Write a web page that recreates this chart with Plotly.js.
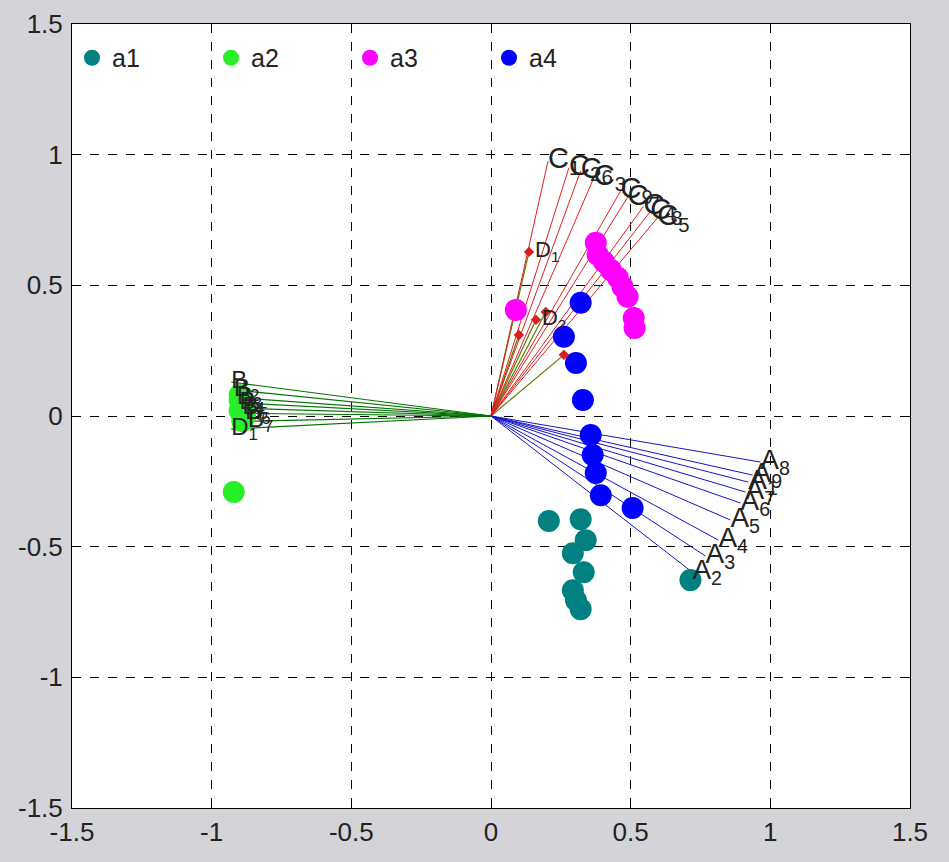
<!DOCTYPE html>
<html>
<head>
<meta charset="utf-8">
<script src="https://cdn.plot.ly/plotly-3.0.1.min.js"></script>
<style>html,body{margin:0;padding:0;background:#d4d4d8;}</style>
</head>
<body>
<div id="chart" style="width:949px;height:862px;"></div>
<script>
// ---- data ----
const a1x = [0.207, 0.321, 0.339, 0.293, 0.332, 0.293, 0.304, 0.321, 0.714];
const a1y = [-0.402, -0.395, -0.475, -0.525, -0.598, -0.667, -0.705, -0.739, -0.628];
const a2x = [-0.90, -0.89, -0.90, -0.88, -0.89, -0.90, -0.88, -0.89, -0.921];
const a2y = [0.06, 0.04, 0.02, 0.00, -0.02, 0.08, 0.05, -0.01, -0.291];
const a3x = [0.375, 0.382, 0.404, 0.429, 0.454, 0.471, 0.489, 0.511, 0.514, 0.089];
const a3y = [0.663, 0.617, 0.590, 0.559, 0.529, 0.494, 0.456, 0.375, 0.337, 0.406];
const a4x = [0.321, 0.261, 0.304, 0.329, 0.357, 0.364, 0.375, 0.393, 0.507];
const a4y = [0.433, 0.303, 0.203, 0.061, -0.073, -0.149, -0.218, -0.303, -0.352];

// vector endpoints (loadings) and their labels
const Ax = [0.964, 0.936, 0.921, 0.911, 0.893, 0.857, 0.814, 0.768, 0.721];
const Ay = [-0.176, -0.226, -0.253, -0.291, -0.333, -0.398, -0.475, -0.536, -0.598];
const Alab = ['A<sub>8</sub>', 'A<sub>9</sub>', 'A<sub>1</sub>', 'A<sub>7</sub>', 'A<sub>6</sub>', 'A<sub>5</sub>', 'A<sub>4</sub>', 'A<sub>3</sub>', 'A<sub>2</sub>'];

const Cx = [0.204, 0.279, 0.321, 0.368, 0.464, 0.489, 0.546, 0.570, 0.595];
const Cy = [0.975, 0.950, 0.938, 0.911, 0.861, 0.837, 0.802, 0.782, 0.757];
const Clab = ['C<sub>1</sub>', 'C<sub>2</sub>', 'C<sub>6</sub>', 'C<sub>3</sub>', 'C<sub>9</sub>', 'C<sub>7</sub>', 'C<sub>4</sub>', 'C<sub>8</sub>', 'C<sub>5</sub>'];

const Bx = [-0.93, -0.92, -0.91, -0.90, -0.89, -0.88, -0.87, -0.93];
const By = [0.13, 0.10, 0.07, 0.05, 0.03, 0.01, -0.02, -0.05];
const Blab = ['B', 'B<sub>2</sub>', 'B<sub>3</sub>', 'B<sub>4</sub>', 'B<sub>5</sub>', 'B<sub>6</sub>', 'B<sub>7</sub>', 'D<sub>1</sub>'];

const Dx = [0.136, 0.161, 0.100, 0.196, 0.261];
const Dy = [0.628, 0.368, 0.310, 0.398, 0.234];
const Dlab = ['D<sub>1</sub>', 'D<sub>2</sub>', '', '', ''];

// ---- helpers ----
function rays(xs, ys) {
  const x = [], y = [];
  for (let i = 0; i < xs.length; i++) { x.push(0, xs[i], null); y.push(0, ys[i], null); }
  return {x, y};
}
const font = 'Liberation Sans, Arial, sans-serif';

const rB = rays(Bx, By), rD = rays(Dx, Dy), rC = rays(Cx, Cy), rA = rays(Ax, Ay);
const traces = [
  {x: rB.x, y: rB.y, mode: 'lines', line: {color: 'rgb(0,115,0)', width: 1.2}, showlegend: false, hoverinfo: 'skip'},
  {x: rD.x, y: rD.y, mode: 'lines', line: {color: 'rgb(90,120,0)', width: 1.2}, showlegend: false, hoverinfo: 'skip'},
  {x: rC.x, y: rC.y, mode: 'lines', line: {color: 'rgb(225,30,30)', width: 1}, showlegend: false, hoverinfo: 'skip'},
  {x: rA.x, y: rA.y, mode: 'lines', line: {color: 'rgb(20,20,200)', width: 1}, showlegend: false, hoverinfo: 'skip'},
  {x: a1x, y: a1y, mode: 'markers', name: 'a1', marker: {color: 'rgb(0,128,128)', size: 22}},
  {x: a2x, y: a2y, mode: 'markers', name: 'a2', marker: {color: 'rgb(40,240,40)', size: 22}},
  {x: a3x, y: a3y, mode: 'markers', name: 'a3', marker: {color: 'rgb(255,0,255)', size: 22}},
  {x: a4x, y: a4y, mode: 'markers', name: 'a4', marker: {color: 'rgb(0,0,255)', size: 22}},
  {x: Dx, y: Dy, mode: 'markers+text', text: Dlab, textposition: 'middle right',
   textfont: {family: font, size: 22, color: '#222'},
   marker: {symbol: 'diamond', color: 'rgb(220,30,30)', size: 8}, showlegend: false, hoverinfo: 'skip'},
  {x: Cx, y: Cy, mode: 'text', text: Clab, textposition: 'middle right',
   textfont: {family: font, size: 29, color: '#222'}, showlegend: false, hoverinfo: 'skip'},
  {x: Ax, y: Ay, mode: 'text', text: Alab, textposition: 'middle right',
   textfont: {family: font, size: 28, color: '#222'}, showlegend: false, hoverinfo: 'skip'},
  {x: Bx, y: By, mode: 'text', text: Blab, textposition: 'middle right',
   textfont: {family: font, size: 24, color: '#222'}, showlegend: false, hoverinfo: 'skip'}
];

const ticks = [-1.5, -1, -0.5, 0, 0.5, 1, 1.5];
const tickText = ['-1.5', '-1', '-0.5', '0', '0.5', '1', '1.5'];
const axisCommon = {
  range: [-1.5, 1.5], tickvals: ticks, ticktext: tickText,
  showgrid: true, gridcolor: '#000', griddash: 'dash', gridwidth: 1,
  zeroline: false, showline: true, linecolor: '#000', linewidth: 1, mirror: 'ticks',
  ticks: 'inside', ticklen: 6, tickcolor: '#000',
  tickfont: {family: font, size: 26, color: '#222'}, fixedrange: true
};

const layout = {
  width: 949, height: 862,
  paper_bgcolor: '#d4d4d8', plot_bgcolor: '#ffffff',
  margin: {l: 72, r: 39, t: 24, b: 54},
  xaxis: Object.assign({}, axisCommon, {ticklabelstandoff: 1}),
  yaxis: Object.assign({}, axisCommon, {ticklabelstandoff: 3}),
  showlegend: true,
  legend: {orientation: 'h', x: 0, y: 0.986, xanchor: 'left', yanchor: 'top',
    bgcolor: 'rgba(0,0,0,0)', font: {family: font, size: 25, color: '#222'},
    entrywidth: 94, entrywidthmode: 'pixels', itemsizing: 'trace'}
};

Plotly.newPlot('chart', traces, layout, {displayModeBar: false, staticPlot: true});
</script>
</body>
</html>
